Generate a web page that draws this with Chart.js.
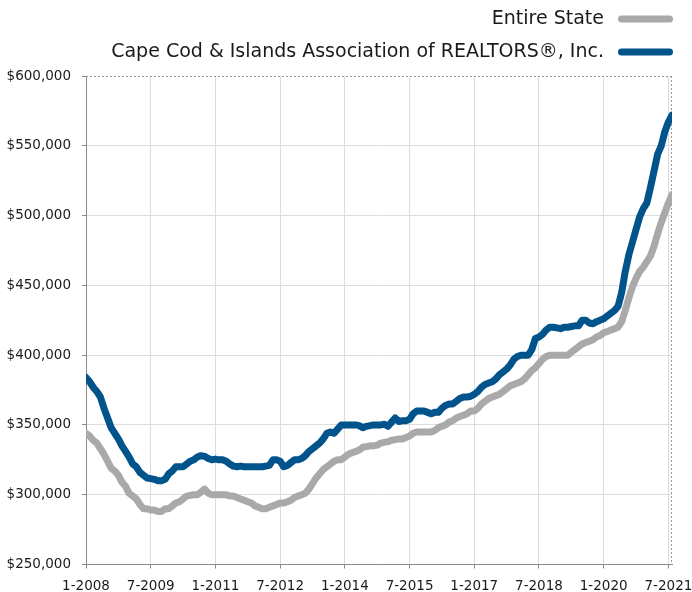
<!DOCTYPE html>
<html>
<head>
<meta charset="utf-8">
<script src="https://cdn.jsdelivr.net/npm/chart.js@4/dist/chart.umd.min.js"></script>
<style>
  html, body { margin: 0; padding: 0; background: #fff; }
  #wrap { width: 692px; height: 592px; position: relative; }
</style>
</head>
<body>
<div id="wrap"><canvas id="c"></canvas></div>
<script>
// Monthly median sale price, thousands of dollars, Jan 2008 .. Aug 2021
const seriesNames = ["Entire State", "Cape Cod & Islands Association of REALTORS®, Inc."];
const tickLabels = ["1-2008", "7-2009", "1-2011", "7-2012", "1-2014", "7-2015", "1-2017", "7-2018", "1-2020", "7-2021"];
const yTicks = [250, 300, 350, 400, 450, 500, 550, 600];

const entireState = [
  344, 342, 339, 337, 333, 329, 324, 319, 317, 314,
  309, 306, 301, 299, 297, 293, 290, 290, 289, 289,
  288, 288, 290, 290, 292, 294, 295, 297, 299, 299.5,
  300, 300, 302, 304, 301, 300, 300, 300, 300, 300,
  299, 299, 298, 297, 296, 295, 294, 292, 291, 290,
  290, 291, 292, 293, 294, 294, 295, 296, 298, 299,
  300, 301, 304, 308, 312, 315, 318, 320, 322, 324,
  325, 325, 327, 329, 330, 331, 332, 334, 334.5, 335,
  335, 335.5, 337, 337.5, 338, 339, 339.5, 340, 340, 341,
  342, 344, 345, 345, 345, 345, 345, 346, 348, 349,
  350, 352, 353, 355, 356, 357, 358, 360, 360, 362,
  365, 367, 369, 370, 371, 372, 374, 376, 378, 379,
  380, 381, 383, 386, 389, 391, 394, 397, 399, 400,
  400, 400, 400, 400, 400, 402, 404, 406, 408, 409,
  410, 411, 413, 414, 416, 417, 418, 419, 420, 424,
  432, 441, 449, 455, 460, 463, 467, 471, 478, 487,
  495, 502, 509, 515
];

const capeCod = [
  384, 381, 377, 374, 370, 362, 355, 348, 344, 340,
  335, 331, 327, 322, 320, 316, 314, 312, 311.5, 311,
  310, 310, 311, 315, 317, 320, 320, 320, 322, 324,
  325, 327, 328, 327.5, 326, 325, 325.5, 325, 325, 324,
  322, 320.5, 320, 320.5, 320, 320, 320, 320, 320, 320,
  320.5, 321, 325, 325, 324, 320, 321, 323, 325, 325,
  326, 328, 331, 333, 335, 337, 340, 344, 345, 344,
  347, 350, 350, 350, 350, 350, 349.5, 348, 349, 349.5,
  350, 350, 350, 350.5, 349, 352, 355, 352.5, 353, 353,
  354, 358, 360, 360, 360, 359, 358, 359, 359, 362,
  364, 365, 365, 367, 369, 370, 370, 370.5, 372, 374,
  377, 379, 380, 381, 383, 386, 388, 390, 393, 397,
  399, 400, 400, 400, 404, 412, 413, 415, 418, 420,
  420, 419.5, 419, 420, 420, 420.5, 421, 421, 425, 425,
  423, 422.5, 424, 425, 426, 428, 430, 432, 435, 445,
  460, 472, 481, 490, 499, 505, 509, 520, 532, 544,
  550, 560, 567, 572
];

const colors = ["#a9a9a9", "#00538b"];
const FONT = "'DejaVu Sans', sans-serif";

const toPoints = arr => arr.map((v, i) => ({ x: i, y: v }));

const frameAndLegend = {
  id: 'frameAndLegend',
  beforeDatasetsDraw(chart) {
    const { ctx, chartArea: a } = chart;
    ctx.save();
    ctx.strokeStyle = '#9a9a9a';
    ctx.lineWidth = 1;
    ctx.setLineDash([2, 2]);
    ctx.beginPath();
    ctx.moveTo(a.left, a.top + 0.5);
    ctx.lineTo(a.right, a.top + 0.5);
    ctx.moveTo(a.right - 0.5, a.top);
    ctx.lineTo(a.right - 0.5, a.bottom);
    ctx.stroke();
    ctx.restore();
  },
  afterDraw(chart) {
    const { ctx } = chart;
    const rows = [19, 52];
    ctx.save();
    ctx.font = "19px " + FONT;
    ctx.textAlign = 'right';
    ctx.textBaseline = 'middle';
    chart.data.datasets.forEach((ds, i) => {
      const y = rows[i];
      ctx.fillStyle = '#1a1a1a';
      ctx.fillText(ds.label, 604, y);
      ctx.strokeStyle = ds.borderColor;
      ctx.lineWidth = 7;
      ctx.lineCap = 'round';
      ctx.beginPath();
      ctx.moveTo(621.5, y);
      ctx.lineTo(669.5, y);
      ctx.stroke();
    });
    ctx.restore();
  }
};

new Chart(document.getElementById('c'), {
  type: 'line',
  data: {
    datasets: [
      { label: seriesNames[0], data: toPoints(entireState), borderColor: colors[0], backgroundColor: colors[0] },
      { label: seriesNames[1], data: toPoints(capeCod), borderColor: colors[1], backgroundColor: colors[1] }
    ]
  },
  options: {
    responsive: true,
    maintainAspectRatio: false,
    animation: false,
    devicePixelRatio: 1,
    layout: { padding: { top: 76, left: 6, right: 20, bottom: 0 } },
    elements: {
      line: { borderWidth: 7, tension: 0, borderJoinStyle: 'round', borderCapStyle: 'round' },
      point: { radius: 0, hoverRadius: 0 }
    },
    plugins: { legend: { display: false }, tooltip: { enabled: false } },
    scales: {
      x: {
        type: 'linear',
        min: 0,
        max: entireState.length - 1,
        afterFit: s => { s.height = 27.5; s.paddingRight = 0; s.paddingLeft = 0; },
        grid: { color: '#dddddd', tickColor: '#888888', tickLength: 4, drawOnChartArea: true },
        border: { color: '#888888' },
        ticks: {
          stepSize: 18,
          includeBounds: false,
          autoSkip: false,
          maxRotation: 0,
          minRotation: 0,
          padding: 10,
          color: '#1a1a1a',
          font: { family: FONT, size: 13.5 },
          callback: v => tickLabels[Math.round(v / 18)] || ''
        }
      },
      y: {
        min: 250,
        max: 600,
        afterFit: s => { s.width = 80; s.paddingTop = 0; s.paddingBottom = 0; },
        grid: {
          color: c => (c.tick && c.tick.value === 600 ? 'rgba(0,0,0,0)' : '#dddddd'),
          tickColor: '#888888',
          tickLength: 4
        },
        border: { color: '#888888' },
        ticks: {
          stepSize: 50,
          padding: 11,
          color: '#1a1a1a',
          font: { family: FONT, size: 13.5 },
          callback: v => '$' + (v * 1000).toLocaleString('en-US')
        }
      }
    }
  },
  plugins: [frameAndLegend]
});
</script>
</body>
</html>
